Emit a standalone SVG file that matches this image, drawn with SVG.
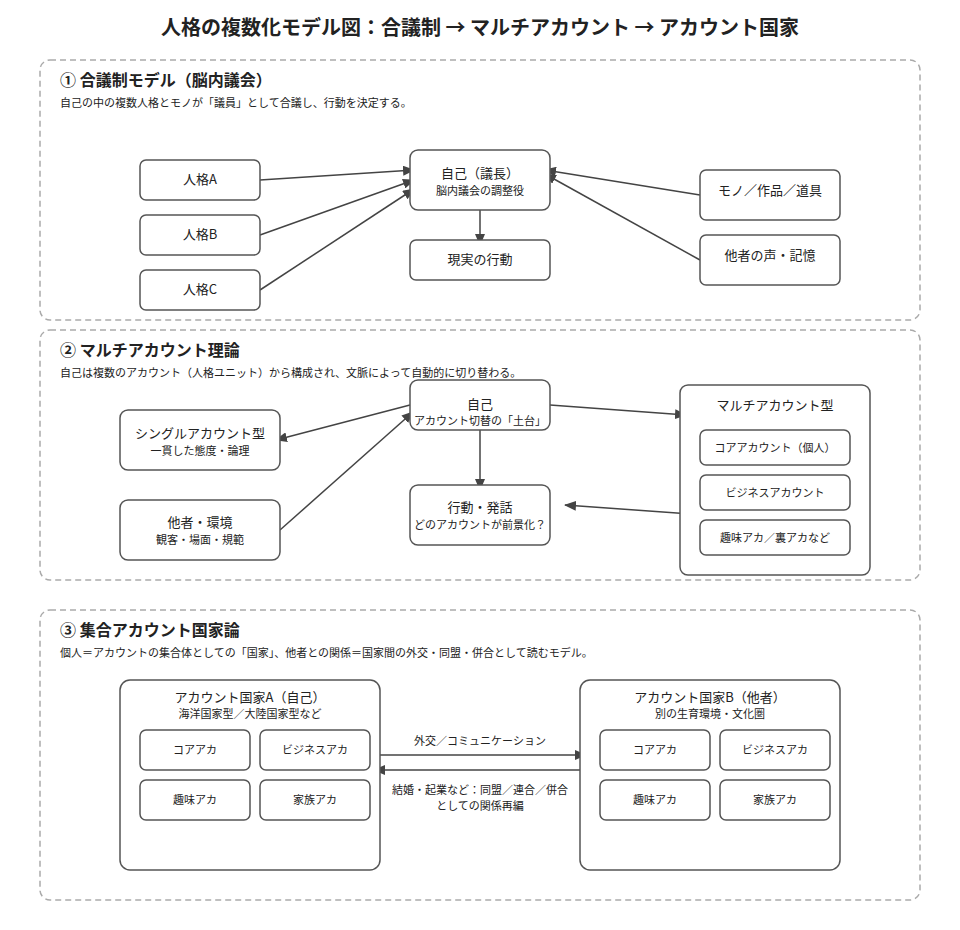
<svg xmlns="http://www.w3.org/2000/svg" width="960" height="930" viewBox="0 0 960 930">
<defs>
<marker id="ah" markerWidth="12" markerHeight="10" refX="11" refY="5" orient="auto" markerUnits="userSpaceOnUse">
<path d="M0,0 L12,5 L0,10 Z" fill="#444"/>
</marker>
<style>
text{font-family:"Noto Sans CJK JP","Liberation Sans",sans-serif;fill:#222;}
.title{font-size:20px;font-weight:bold;}
.h{font-size:16px;font-weight:bold;}
.d{font-size:11px;}
.n{font-size:13px;}
.s{font-size:11px;}
.panel{fill:#fff;stroke:#aaa;stroke-width:1.5;stroke-dasharray:6,4;}
.box{fill:#fff;stroke:#555;stroke-width:1.5;}
.c{stroke:#444;stroke-width:1.5;fill:none;marker-end:url(#ah);}
</style>
</defs>
<rect width="960" height="930" fill="#fff"/>
<text class="title" x="480" y="35" text-anchor="middle">人格の複数化モデル図：合議制 → マルチアカウント → アカウント国家</text>

<g id="panel1">
<rect class="panel" x="40" y="60" width="880" height="260" rx="10"/>
<text class="h" x="60" y="86">① 合議制モデル（脳内議会）</text>
<text class="d" x="60" y="107">自己の中の複数人格とモノが「議員」として合議し、行動を決定する。</text>
</g>
<g id="panel2">
<rect class="panel" x="40" y="330" width="880" height="250" rx="10"/>
<text class="h" x="60" y="356">② マルチアカウント理論</text>
<text class="d" x="60" y="377">自己は複数のアカウント（人格ユニット）から構成され、文脈によって自動的に切り替わる。</text>
</g>
<g id="panel3">
<rect class="panel" x="40" y="610" width="880" height="290" rx="10"/>
<text class="h" x="60" y="636">③ 集合アカウント国家論</text>
<text class="d" x="60" y="657">個人＝アカウントの集合体としての「国家」、他者との関係＝国家間の外交・同盟・併合として読むモデル。</text>
</g>

<g id="connectors">
<line class="c" x1="260" y1="180" x2="414" y2="170"/>
<line class="c" x1="260" y1="235" x2="414" y2="180"/>
<line class="c" x1="260" y1="290" x2="414" y2="189"/>
<line class="c" x1="480" y1="210" x2="480" y2="245"/>
<line class="c" x1="700" y1="195" x2="545" y2="170"/>
<line class="c" x1="700" y1="260" x2="545" y2="174"/>

<line class="c" x1="410" y1="405" x2="276" y2="440"/>
<line class="c" x1="280" y1="530" x2="413" y2="412"/>
<line class="c" x1="480" y1="430" x2="480" y2="490"/>
<line class="c" x1="550" y1="405" x2="686" y2="415"/>
<line class="c" x1="775" y1="520" x2="565" y2="505"/>

<line class="c" x1="380" y1="755" x2="586" y2="755"/>
<line class="c" x1="580" y1="770" x2="374" y2="770"/>
</g>

<g id="p1-a"><rect class="box" x="140" y="160" width="120" height="40" rx="6"/><text class="n" x="200" y="184" text-anchor="middle">人格A</text></g>
<g id="p1-b"><rect class="box" x="140" y="215" width="120" height="40" rx="6"/><text class="n" x="200" y="239" text-anchor="middle">人格B</text></g>
<g id="p1-c"><rect class="box" x="140" y="270" width="120" height="40" rx="6"/><text class="n" x="200" y="294" text-anchor="middle">人格C</text></g>
<g id="p1-self"><rect class="box" x="410" y="150" width="140" height="60" rx="8"/><text class="n" x="480" y="178" text-anchor="middle">自己（議長）</text><text class="s" x="480" y="195" text-anchor="middle">脳内議会の調整役</text></g>
<g id="p1-action"><rect class="box" x="410" y="240" width="140" height="40" rx="6"/><text class="n" x="480" y="264" text-anchor="middle">現実の行動</text></g>
<g id="p1-mono"><rect class="box" x="700" y="170" width="140" height="50" rx="6"/><text class="n" x="770" y="195" text-anchor="middle">モノ／作品／道具</text></g>
<g id="p1-voice"><rect class="box" x="700" y="235" width="140" height="50" rx="6"/><text class="n" x="770" y="260" text-anchor="middle">他者の声・記憶</text></g>

<g id="p2-self"><rect class="box" x="410" y="380" width="140" height="50" rx="8"/><text class="n" x="480" y="409" text-anchor="middle">自己</text><text class="s" x="480" y="425" text-anchor="middle">アカウント切替の「土台」</text></g>
<g id="p2-single"><rect class="box" x="120" y="410" width="160" height="60" rx="8"/><text class="n" x="200" y="438" text-anchor="middle">シングルアカウント型</text><text class="s" x="200" y="455" text-anchor="middle">一貫した態度・論理</text></g>
<g id="p2-env"><rect class="box" x="120" y="500" width="160" height="60" rx="8"/><text class="n" x="200" y="527" text-anchor="middle">他者・環境</text><text class="s" x="200" y="544" text-anchor="middle">観客・場面・規範</text></g>
<g id="p2-action"><rect class="box" x="410" y="485" width="140" height="60" rx="8"/><text class="n" x="480" y="512" text-anchor="middle">行動・発話</text><text class="s" x="480" y="529" text-anchor="middle">どのアカウントが前景化？</text></g>
<g id="p2-multi">
<rect class="box" x="680" y="385" width="190" height="190" rx="8"/>
<text class="n" x="775" y="410" text-anchor="middle">マルチアカウント型</text>
<rect class="box" x="700" y="430" width="150" height="35" rx="6"/><text class="s" x="775" y="452" text-anchor="middle">コアアカウント（個人）</text>
<rect class="box" x="700" y="475" width="150" height="35" rx="6"/><text class="s" x="775" y="497" text-anchor="middle">ビジネスアカウント</text>
<rect class="box" x="700" y="520" width="150" height="35" rx="6"/><text class="s" x="775" y="542" text-anchor="middle">趣味アカ／裏アカなど</text>
</g>

<g id="p3-stateA">
<rect class="box" x="120" y="680" width="260" height="190" rx="10"/>
<text class="n" x="250" y="702" text-anchor="middle">アカウント国家A（自己）</text>
<text class="s" x="250" y="718" text-anchor="middle">海洋国家型／大陸国家型など</text>
<rect class="box" x="140" y="730" width="110" height="40" rx="6"/><text class="s" x="195" y="754" text-anchor="middle">コアアカ</text>
<rect class="box" x="260" y="730" width="110" height="40" rx="6"/><text class="s" x="315" y="754" text-anchor="middle">ビジネスアカ</text>
<rect class="box" x="140" y="780" width="110" height="40" rx="6"/><text class="s" x="195" y="804" text-anchor="middle">趣味アカ</text>
<rect class="box" x="260" y="780" width="110" height="40" rx="6"/><text class="s" x="315" y="804" text-anchor="middle">家族アカ</text>
</g>
<g id="p3-stateB">
<rect class="box" x="580" y="680" width="260" height="190" rx="10"/>
<text class="n" x="710" y="702" text-anchor="middle">アカウント国家B（他者）</text>
<text class="s" x="710" y="718" text-anchor="middle">別の生育環境・文化圏</text>
<rect class="box" x="600" y="730" width="110" height="40" rx="6"/><text class="s" x="655" y="754" text-anchor="middle">コアアカ</text>
<rect class="box" x="720" y="730" width="110" height="40" rx="6"/><text class="s" x="775" y="754" text-anchor="middle">ビジネスアカ</text>
<rect class="box" x="600" y="780" width="110" height="40" rx="6"/><text class="s" x="655" y="804" text-anchor="middle">趣味アカ</text>
<rect class="box" x="720" y="780" width="110" height="40" rx="6"/><text class="s" x="775" y="804" text-anchor="middle">家族アカ</text>
</g>
<g id="p3-labels">
<text class="s" x="480" y="745" text-anchor="middle">外交／コミュニケーション</text>
<text class="s" x="480" y="794" text-anchor="middle">結婚・起業など：同盟／連合／併合</text>
<text class="s" x="480" y="810" text-anchor="middle">としての関係再編</text>
</g>
</svg>
